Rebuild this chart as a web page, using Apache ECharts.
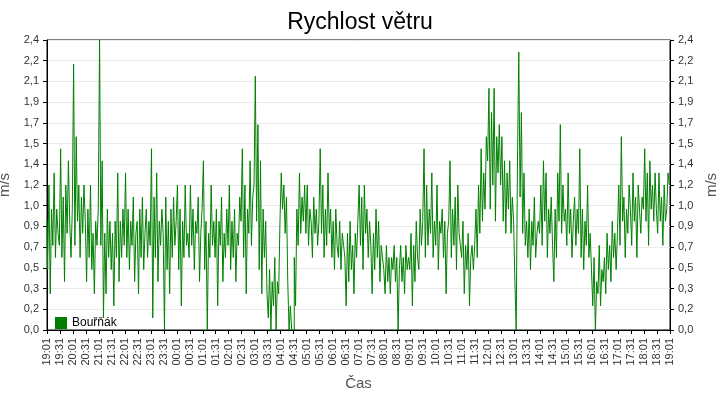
<!DOCTYPE html>
<html>
<head>
<meta charset="utf-8">
<script src="https://cdn.jsdelivr.net/npm/echarts@6/dist/echarts.min.js"></script>
<style>html,body{margin:0;padding:0;background:#fff}#main{width:720px;height:400px}</style>
</head>
<body>
<div id="main"></div>
<script>
// wind speed, one value every 3 minutes from 19:01 to 19:01 next day
const speed = [
    0.9,0.5,1.2,0.3,1.0,0.7,1.3,0.6,1.0,0.8,
    0.7,1.5,0.6,1.1,0.4,1.2,0.8,1.4,0.9,0.6,
    1.0,2.2,0.7,1.6,0.9,1.2,0.6,1.1,0.8,1.2,
    0.9,0.4,1.0,0.6,1.2,0.5,0.8,0.3,0.9,0.7,
    1.0,2.4,0.7,1.4,0.1,0.8,0.3,1.0,0.6,0.9,
    0.5,0.8,0.2,0.9,0.6,1.3,0.4,0.9,0.6,1.0,
    0.7,1.3,0.6,1.0,0.5,0.9,0.7,1.1,0.4,0.8,
    0.9,0.3,1.0,0.6,1.1,0.5,0.8,1.0,0.6,0.9,
    0.7,1.5,0.1,1.1,0.6,1.3,0.4,0.9,0.7,1.0,
    0.8,0.0,1.1,0.5,0.9,0.3,1.0,0.6,1.1,0.7,
    0.9,1.2,0.5,1.0,0.2,0.9,0.6,1.2,0.7,0.8,
    0.6,1.2,0.7,1.0,0.5,0.9,0.8,1.1,0.4,0.8,
    1.0,1.4,0.5,0.9,0.0,0.8,0.6,1.2,0.7,0.9,
    0.6,1.0,0.2,0.9,0.7,1.1,0.4,0.8,0.6,1.0,
    0.7,1.2,0.5,0.9,0.6,1.0,0.4,0.8,0.7,1.1,
    0.9,1.5,0.6,1.2,0.3,1.0,0.8,1.4,0.7,1.1,
    1.2,2.1,0.9,1.7,0.5,1.4,0.3,1.0,0.6,0.9,
    0.3,0.1,0.5,0.0,0.4,0.2,0.6,0.0,0.4,0.3,
    0.9,1.3,1.0,1.2,0.8,1.1,0.4,0.0,0.2,0.0,
    0.0,0.6,0.2,1.0,0.7,1.3,0.8,1.1,0.9,1.2,
    0.8,1.2,0.7,1.0,0.9,0.6,1.1,0.8,1.0,0.7,
    0.9,1.5,0.8,1.2,0.6,1.0,0.7,1.3,0.8,1.0,
    0.6,0.9,0.5,1.0,0.7,0.6,0.9,0.5,0.8,0.7,
    0.6,0.2,0.8,0.4,0.9,0.5,0.7,0.3,0.8,0.6,
    0.9,1.2,0.7,1.1,0.5,1.2,0.8,1.0,0.6,0.9,
    0.7,0.3,0.8,0.5,1.0,0.6,0.9,0.4,0.7,0.6,
    0.5,0.3,0.7,0.4,0.6,0.3,0.6,0.5,0.7,0.4,
    0.6,0.0,0.5,0.7,0.4,0.6,0.3,0.7,0.5,0.6,
    0.5,0.8,0.2,0.7,0.4,0.9,0.6,0.5,1.0,0.7,
    0.9,1.5,0.6,1.2,0.7,1.0,0.8,1.3,0.6,0.9,
    0.7,1.2,0.5,0.9,0.8,1.0,0.6,0.9,0.3,0.8,
    0.9,1.4,0.6,1.0,0.7,1.1,0.5,1.2,0.8,0.7,
    0.6,0.9,0.3,0.7,0.5,0.8,0.2,0.6,0.7,0.5,
    0.7,1.0,0.6,1.2,0.8,1.5,0.9,1.3,1.0,1.6,
    1.4,2.0,1.0,1.8,1.2,2.0,0.9,1.6,1.3,1.7,
    1.2,1.6,0.9,1.4,0.8,1.3,1.0,1.4,0.8,1.1,
    0.9,0.4,0.0,1.4,2.3,1.1,1.8,0.8,1.3,0.7,
    0.9,0.6,1.0,0.5,0.9,0.7,1.1,0.6,0.8,0.9,
    0.8,1.2,0.7,1.4,0.9,1.3,0.6,1.0,0.8,1.1,
    0.7,0.4,1.0,0.6,1.3,0.9,1.7,0.8,1.2,0.9,
    1.0,0.7,1.3,0.8,1.0,0.6,0.9,1.1,0.7,1.0,
    0.8,1.5,0.6,1.0,0.5,0.9,0.7,1.2,0.6,0.8,
    0.5,0.2,0.6,0.0,0.4,0.3,0.7,0.2,0.5,0.4,
    0.6,0.3,0.8,0.5,0.7,0.4,0.9,0.6,0.8,0.5,
    0.8,1.2,0.7,1.6,0.9,1.1,0.6,1.0,0.8,1.2,
    1.0,0.7,1.3,0.9,1.1,0.6,1.2,1.0,0.8,1.1,
    1.0,1.5,0.9,1.3,0.7,1.4,1.0,1.2,0.9,1.3,
    1.0,0.8,1.3,0.9,1.1,0.7,1.2,0.9,1.0,1.3,
    1.2
];

const startMinute = 19 * 60 + 1;
const stepMinutes = 3;
const times = speed.map((_, i) => {
    const m = (startMinute + i * stepMinutes) % 1440;
    return String(Math.floor(m / 60)).padStart(2, "0") + ":" + String(m % 60).padStart(2, "0");
});

const yMax = 2.4;
const yInterval = yMax / 14;
const fmt = (v) => v.toFixed(1).replace(".", ",");

const chart = echarts.init(document.getElementById("main"));

const yAxisBase = {
    type: "value",
    min: 0,
    max: yMax,
    interval: yInterval,
    name: "m/s",
    nameLocation: "middle",
    nameRotate: 90,
    nameTextStyle: { color: "#555", fontSize: 15, fontFamily: "Liberation Sans" },
    axisLine: { show: true, lineStyle: { color: "#000" } },
    axisTick: { show: true, length: 4, lineStyle: { color: "#000" } },
    axisLabel: { formatter: fmt, color: "#333", fontSize: 11, fontFamily: "Liberation Sans" },
};

chart.setOption({
    animation: false,
    title: {
        text: "Rychlost větru",
        left: "center",
        top: 6,
        textStyle: { fontSize: 23, fontWeight: "normal", color: "#000", fontFamily: "Liberation Sans" },
    },
    legend: {
        left: 50,
        top: 312,
        itemWidth: 12,
        itemHeight: 12,
        icon: "rect",
        textStyle: { fontSize: 12, color: "#000", fontFamily: "Liberation Sans" },
        data: ["Bouřňák"],
    },
    grid: {
        left: 47, right: 50, top: 40, bottom: 70,
        outerBoundsMode: "none",
        containLabel: false,
        show: true, borderColor: "#000", borderWidth: 1,
    },
    xAxis: {
        type: "category",
        data: times,
        boundaryGap: false,
        name: "Čas",
        nameLocation: "middle",
        nameGap: 46,
        nameTextStyle: { color: "#555", fontSize: 15, fontFamily: "Liberation Sans" },
        axisLine: { lineStyle: { color: "#000" } },
        axisTick: { interval: 9, length: 4, lineStyle: { color: "#000" } },
        axisLabel: { interval: 9, rotate: 90, color: "#333", fontSize: 11, fontFamily: "Liberation Sans" },
    },
    yAxis: [
        Object.assign({}, yAxisBase, {
            position: "left",
            nameGap: 32,
            splitLine: { lineStyle: { color: "#eaeaea" } },
        }),
        Object.assign({}, yAxisBase, {
            position: "right",
            nameGap: 34,
            splitLine: { show: false },
        }),
    ],
    series: [
        {
            name: "Bouřňák",
            type: "line",
            step: "middle",
            data: speed,
            showSymbol: false,
            symbol: "none",
            sampling: "none",
            itemStyle: { color: "#008000" },
            lineStyle: { color: "#008000", width: 1 },
        },
    ],
});
</script>
</body>
</html>
